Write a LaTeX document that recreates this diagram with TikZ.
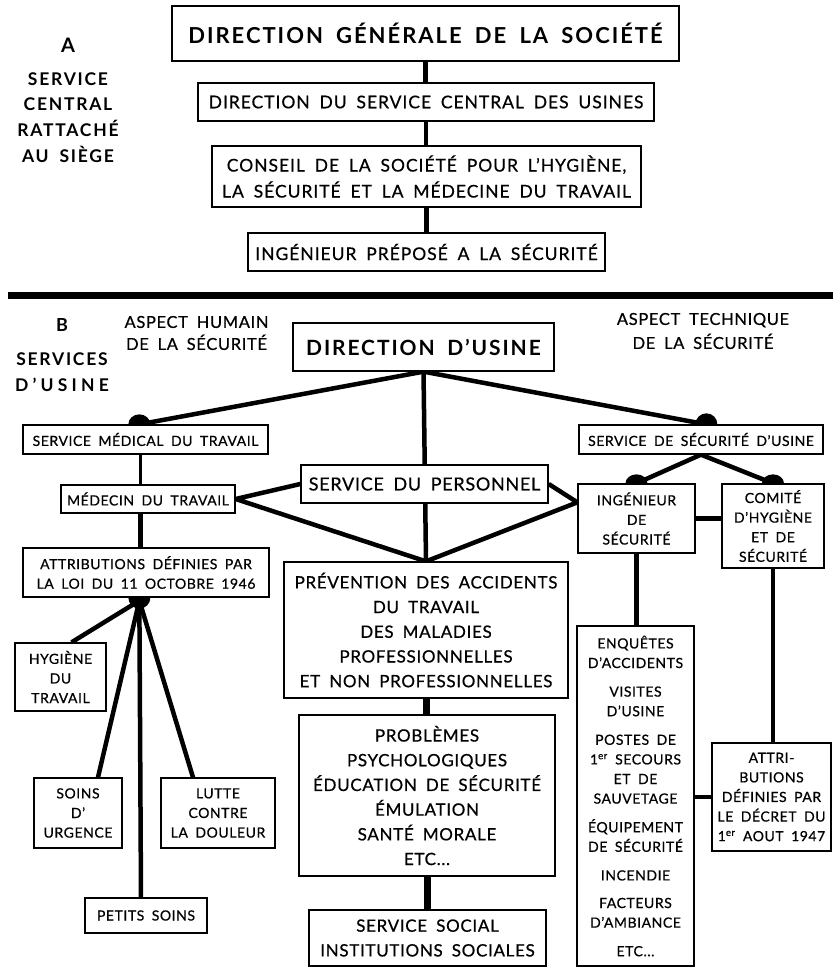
\documentclass[tikz,border=0pt]{standalone}
\usepackage{fontspec}
\setmainfont{Lato}[LetterSpace=4,WordSpace=1.8,UprightFeatures={FakeBold=0.6}]
\usetikzlibrary{calc}
\pgfdeclarelayer{bg}
\pgfsetlayers{bg,main}
\newcommand{\ftdgs}{\fontsize{22}{26}\bfseries\selectfont\addfontfeature{LetterSpace=9}}
\newcommand{\ftddu}{\fontsize{21}{26}\bfseries\selectfont\addfontfeature{LetterSpace=9}}
\newcommand{\ftbig}{\fontsize{17.5}{26}\selectfont\addfontfeature{LetterSpace=5.5}}
\newcommand{\ftmid}{\fontsize{17}{24.7}\selectfont}
\newcommand{\ftsml}{\fontsize{14}{19.6}\selectfont}
\newcommand{\ftlab}{\fontsize{17.5}{25.7}\bfseries\selectfont\addfontfeature{LetterSpace=10}}
\tikzset{
  bx/.style={draw, line width=1.3pt, fill=white, inner sep=0pt, align=center},
  thin link/.style={line width=2.5pt},
  link/.style={line width=4.5pt},
  fat link/.style={line width=7pt},
  blob/.style={fill=black}
}
\begin{document}
\begin{tikzpicture}[x=1pt,y=-1pt]
\useasboundingbox (0,0) rectangle (833,969);
\begin{pgfonlayer}{bg}
\fill[white] (0,0) rectangle (833,969);
\end{pgfonlayer}

% ---------- Section A ----------
\node[font=\fontsize{20}{24}\bfseries\selectfont] (lA) at (68,45) {A};
\node[font=\ftlab, align=center] (lAtxt) at (68,117.5) {SERVICE\\CENTRAL\\RATTACHÉ\\AU SIÈGE};

\node[bx, minimum width=507pt, minimum height=55pt, font=\ftdgs] (dgs) at (425.5,33.5) {DIRECTION GÉNÉRALE DE LA SOCIÉTÉ};
\node[bx, minimum width=456pt, minimum height=38pt, font=\ftbig] (dsc) at (426,102) {DIRECTION DU SERVICE CENTRAL DES USINES};
\node[bx, minimum width=429pt, minimum height=61pt, font=\ftbig] (cons) at (426.5,176.5) {CONSEIL DE LA SOCIÉTÉ POUR L'HYGIÈNE,\\LA SÉCURITÉ ET LA MÉDECINE DU TRAVAIL};
\node[bx, minimum width=357pt, minimum height=38pt, font=\ftbig] (ing0) at (426.5,252) {INGÉNIEUR PRÉPOSÉ A LA SÉCURITÉ};

\begin{pgfonlayer}{bg}
\draw[link] (dgs.south) -- (dgs.south |- dsc.north);
\draw[link] (dsc.south) -- (dsc.south |- cons.north);
\draw[link] (cons.south) -- (cons.south |- ing0.north);
\end{pgfonlayer}

% separating rule
\coordinate (rl) at (8,295.5);
\coordinate (rr) at (833,295.5);
\draw[fat link] (rl) -- (rr);

% ---------- Section B ----------
\node[font=\fontsize{18}{22}\bfseries\selectfont] (lB) at (62,325) {B};
\node[font=\ftlab, align=center] (lBtxt) at (62,372) {SERVICES\\{\addfontfeature{LetterSpace=24}D'USINE}};
\node[font=\fontsize{16.5}{22}\selectfont, align=center] (hum) at (196.5,333) {ASPECT HUMAIN\\DE LA SÉCURITÉ};
\node[font=\fontsize{16.5}{24}\selectfont, align=center] (tech) at (703,331) {ASPECT TECHNIQUE\\DE LA SÉCURITÉ};

\node[bx, minimum width=261pt, minimum height=48pt, font=\ftddu] (ddu) at (423.5,347) {DIRECTION D’USINE};

% left column
\node[bx, minimum width=245pt, minimum height=29pt, font=\ftsml] (smt) at (145.5,439.5) {SERVICE MÉDICAL DU TRAVAIL};
\node[bx, minimum width=174pt, minimum height=28pt, font=\ftsml] (med) at (148,499) {MÉDECIN DU TRAVAIL};
\node[bx, minimum width=246pt, minimum height=49pt, font=\ftsml] (att) at (146,572.5) {ATTRIBUTIONS DÉFINIES PAR\\LA LOI DU 11 OCTOBRE 1946};
\node[bx, minimum width=91pt, minimum height=68pt, font=\ftsml] (hyg) at (60.5,677) {HYGIÈNE\\DU\\TRAVAIL};
\node[bx, minimum width=88pt, minimum height=70pt, font=\ftsml] (soins) at (78,813) {SOINS\\D'\\URGENCE};
\node[bx, minimum width=114pt, minimum height=70pt, font=\ftsml] (lutte) at (218,813) {LUTTE\\CONTRE\\LA DOULEUR};
\node[bx, minimum width=122pt, minimum height=35pt, font=\ftsml] (petits) at (146,915.5) {PETITS SOINS};

% centre column
\node[bx, minimum width=247pt, minimum height=38pt, font=\fontsize{18}{24}\selectfont] (sdp) at (424.5,484) {SERVICE DU PERSONNEL};
\node[bx, minimum width=284pt, minimum height=136pt, font=\ftmid] (prev) at (426,630) {PRÉVENTION DES ACCIDENTS\\DU TRAVAIL\\DES MALADIES\\PROFESSIONNELLES\\ET NON PROFESSIONNELLES};
\node[bx, minimum width=256pt, minimum height=161pt, font=\ftmid] (prob) at (427,795.5) {PROBLÈMES\\PSYCHOLOGIQUES\\ÉDUCATION DE SÉCURITÉ\\ÉMULATION\\SANTÉ MORALE\\ETC...};
\node[bx, minimum width=237pt, minimum height=56pt, font=\ftmid] (ss) at (427.5,938) {SERVICE SOCIAL\\INSTITUTIONS SOCIALES};

% right column
\node[bx, minimum width=244pt, minimum height=29pt, font=\ftsml] (sdsu) at (701,439.5) {SERVICE DE SÉCURITÉ D'USINE};
\node[bx, minimum width=117pt, minimum height=69pt, font=\ftsml] (ingb) at (636.5,518.5) {INGÉNIEUR\\DE\\SÉCURITÉ};
\node[bx, minimum width=102pt, minimum height=84pt, font=\ftsml] (com) at (773,526) {COMITÉ\\D'HYGIÈNE\\ET DE\\SÉCURITÉ};
\node[bx, minimum width=117pt, minimum height=340pt, font=\ftsml] (list) at (635.5,796) {ENQUÊTES\\D'ACCIDENTS\\[9pt]VISITES\\D'USINE\\[9pt]POSTES DE\\1\textsuperscript{er} SECOURS\\ET DE\\SAUVETAGE\\[9pt]ÉQUIPEMENT\\DE SÉCURITÉ\\[9pt]INCENDIE\\[8pt]FACTEURS\\D'AMBIANCE\\[9pt]ETC...};
\node[bx, minimum width=119pt, minimum height=108pt, font=\ftsml] (dec) at (771.5,797) {ATTRI-\\BUTIONS\\DÉFINIES PAR\\LE DÉCRET DU\\1\textsuperscript{er} AOUT 1947};

% anchor points
\coordinate (smtb) at ($(smt.north west)+(117,0)$);
\coordinate (sdsub) at ($(sdsu.north west)+(128,0)$);
\coordinate (ingbb) at (ingb.north);
\coordinate (comb) at (com.north);
\coordinate (attb) at ($(att.south west)+(117,0)$);
\coordinate (fan) at ($(attb)+(0,3)$);
\coordinate (medv) at (med.east);
\coordinate (ingv) at ($(ingb.north west)+(0,19)$);
\coordinate (smtdown) at ($(smt.south west)+(118,0)$);

\begin{pgfonlayer}{bg}
\draw[link] (ddu.south) -- (smtb);
\draw[link] (ddu.south) -- (sdsub);
\draw[link] (ddu.south) -- (prev.north);
\draw[link, line join=round] (sdp.west) -- (medv) -- (prev.north);
\draw[link, line join=round] (sdp.east) -- (ingv) -- (prev.north);
\draw[thin link] (smtdown) -- (smtdown |- med.north);
\draw[link] (smtdown |- med.south) -- (smtdown |- att.north);
\draw[link] (fan) -- ($(hyg.north)+(11,0)$);
\draw[link] (fan) -- ($(soins.north)+(20,0)$);
\draw[link] (fan) -- ($(lutte.north)+(-25,0)$);
\draw[link] (fan) -- ($(petits.north)+(-5,0)$);
\draw[fat link] (prev.south) -- (prev.south |- prob.north);
\draw[fat link] (prob.south) -- (prob.south |- ss.north);
\draw[link] (sdsu.south) -- (ingbb);
\draw[link] (sdsu.south) -- (comb);
\draw[link] (ingb.east) -- (ingb.east -| com.west);
\draw[link] (ingb.south) -- (ingb.south |- list.north);
\draw[link] (com.south) -- (com.south |- dec.north);
\draw[link] (list.east |- dec.west) -- (dec.west);
\end{pgfonlayer}

% blobs
\fill[blob] ($(smtb)+(-11pt,0)$) arc[start angle=180, end angle=0, x radius=11pt, y radius=10pt] -- cycle;
\fill[blob] ($(sdsub)+(-11pt,0)$) arc[start angle=180, end angle=0, x radius=11pt, y radius=11pt] -- cycle;
\fill[blob] ($(ingbb)+(-11pt,0)$) arc[start angle=180, end angle=0, x radius=11pt, y radius=9pt] -- cycle;
\fill[blob] ($(comb)+(-11pt,0)$) arc[start angle=180, end angle=0, x radius=11pt, y radius=9pt] -- cycle;
\fill[blob] ($(attb)+(-11pt,0)$) arc[start angle=180, end angle=360, x radius=11pt, y radius=11pt] -- cycle;
\end{tikzpicture}
\end{document}
